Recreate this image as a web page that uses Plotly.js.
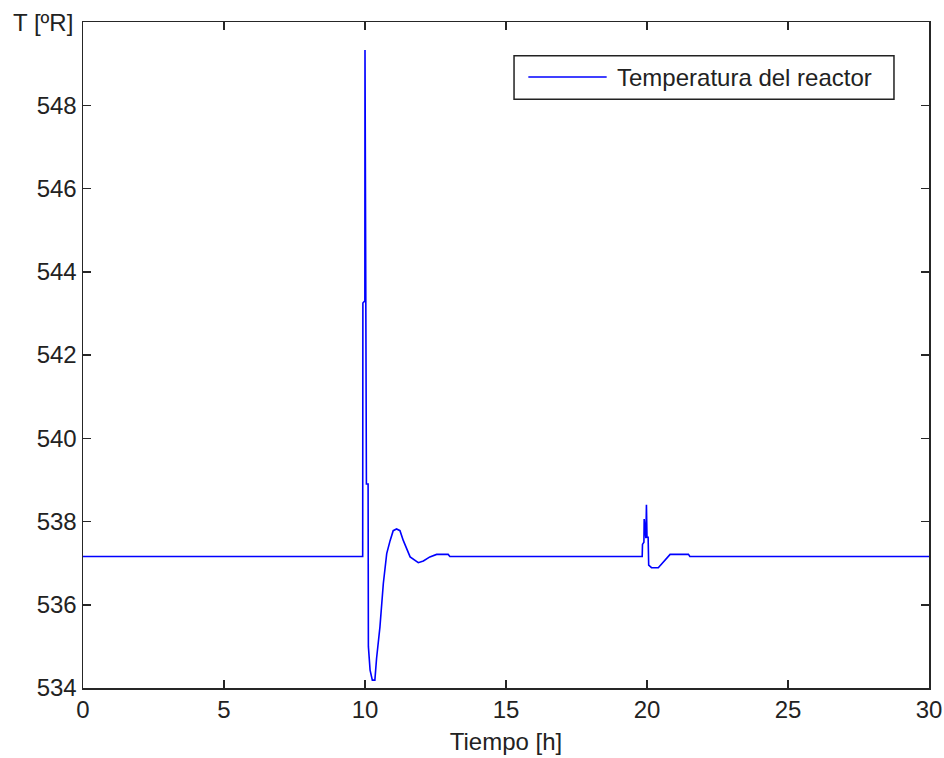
<!DOCTYPE html>
<html>
<head>
<meta charset="utf-8">
<script src="https://cdn.plot.ly/plotly-3.0.1.min.js"></script>
<style>html,body{margin:0;padding:0;background:#fff;}#chart{width:944px;height:758px;}</style>
</head>
<body>
<div id="chart"></div>
<script>
// Time (h)
const tiempo = [0, 9.9, 9.918, 9.925, 9.995, 10.0, 10.02, 10.03, 10.05, 10.11, 10.12, 10.18, 10.26, 10.3,
  10.35, 10.41, 10.53, 10.65, 10.77, 10.89, 11.0, 11.12, 11.24, 11.36, 11.6, 11.89, 12.07, 12.3, 12.54, 12.95, 13.01,
  19.83, 19.84, 19.89, 19.9, 19.96, 19.98, 20.0, 20.04, 20.06, 20.16, 20.4, 20.58, 20.82, 21.47, 21.52, 30];
// Reactor temperature (ºR)
const temperatura = [537.16, 537.16, 537.16, 543.25, 543.3, 549.33, 543.4, 545.8, 538.9, 538.9, 535.0, 534.43, 534.19, 534.19,
  534.19, 534.71, 535.47, 536.51, 537.23, 537.54, 537.78, 537.82, 537.78, 537.54, 537.15, 537.01, 537.05, 537.15, 537.21, 537.21, 537.16,
  537.16, 537.45, 537.5, 538.06, 537.6, 538.4, 537.62, 537.62, 536.95, 536.89, 536.89, 537.03, 537.21, 537.21, 537.16, 537.16];
const serieNombre = 'Temperatura del reactor';
const xTicks = [0, 5, 10, 15, 20, 25, 30];
const yTicks = [534, 536, 538, 540, 542, 544, 546, 548];
const xTitulo = 'Tiempo [h]';
const yTitulo = 'T [ºR]';

const fontFam = '"Liberation Sans", Arial, sans-serif';
const axisCommon = {
  showgrid: false, zeroline: false, showline: true, mirror: 'allticks',
  linecolor: '#262626', linewidth: 1.5, ticks: 'inside', ticklen: 8, tickwidth: 1.5, tickcolor: '#262626',
  tickfont: {family: fontFam, size: 24, color: '#222'}
};

const trace = {
  x: tiempo, y: temperatura, type: 'scatter', mode: 'lines', name: serieNombre,
  line: {color: '#0000ff', width: 1.6}, showlegend: false
};

const layout = {
  width: 944, height: 758,
  margin: {l: 83, r: 15, t: 22, b: 70},
  paper_bgcolor: '#fff', plot_bgcolor: '#fff',
  font: {family: fontFam, size: 24, color: '#222'},
  xaxis: Object.assign({}, axisCommon, {
    range: [0, 30], tickvals: xTicks, ticktext: xTicks.map(String),
    title: {text: xTitulo, font: {family: fontFam, size: 24, color: '#222'}, standoff: 11}
  }),
  yaxis: Object.assign({}, axisCommon, {
    range: [534, 550], tickvals: yTicks, ticktext: yTicks.map(String)
  }),
  shapes: [
    {type: 'rect', xref: 'paper', yref: 'paper', x0: 0.5095, x1: 0.9586, y0: 0.8839, y1: 0.9494,
     line: {color: '#222', width: 1.5}, fillcolor: '#fff'},
    {type: 'line', xref: 'paper', yref: 'paper', x0: 0.5264, x1: 0.6190, y0: 0.9174, y1: 0.9174,
     line: {color: '#0000ff', width: 1.6}}
  ],
  annotations: [
    {xref: 'paper', yref: 'paper', x: 0.6288, y: 0.9174, xanchor: 'left', yanchor: 'middle',
     text: serieNombre, showarrow: false, font: {family: fontFam, size: 24, color: '#222'}},
    {xref: 'paper', yref: 'paper', x: 0, y: 1, xanchor: 'right', yanchor: 'middle', xshift: -8,
     text: yTitulo, showarrow: false, font: {family: fontFam, size: 24, color: '#222'}}
  ]
};

Plotly.newPlot('chart', [trace], layout, {displayModeBar: false, staticPlot: true});
</script>
</body>
</html>
